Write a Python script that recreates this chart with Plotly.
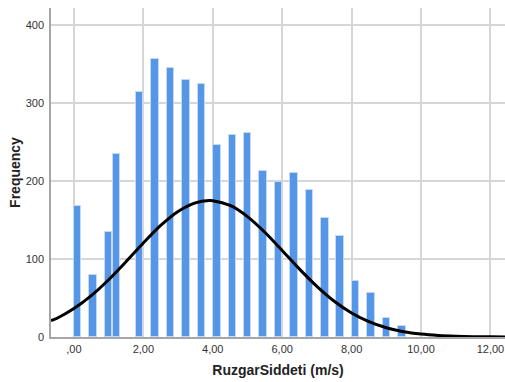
import plotly.graph_objects as go

# histogram bars (bin centres, m/s) and counts
bin_centers = [0.11, 0.55, 1.00, 1.22, 1.89, 2.34, 2.78, 3.23, 3.67, 4.12, 4.56, 5.00,
               5.45, 5.90, 6.34, 6.78, 7.23, 7.67, 8.11, 8.56, 9.01, 9.45]
counts = [168, 80, 135, 235, 314, 356, 345, 329, 325, 246, 259, 261,
          213, 199, 210, 189, 153, 130, 72, 57, 25, 14]

# normal curve points
curve_x = [-0.66, -0.5, 0.0, 0.5, 1.0, 1.5, 2.0, 2.5, 3.0, 3.5, 3.9, 4.0, 4.5, 5.0,
           5.5, 6.0, 6.5, 7.0, 7.5, 8.0, 8.5, 9.0, 9.5, 10.0, 10.5, 11.0, 11.5, 12.0, 12.42]
curve_y = [21, 23.7, 36.4, 53, 73.4, 96.5, 120.5, 143, 161, 172, 175, 174.8, 168.6, 154.4,
           134.3, 111, 87, 64.9, 45.8, 30.8, 19.7, 11.9, 6.8, 3.7, 1.9, 0.95, 0.45, 0.2, 0.1]

x_ticks = [0, 2, 4, 6, 8, 10, 12]
x_labels = [",00", "2,00", "4,00", "6,00", "8,00", "10,00", "12,00"]
y_ticks = [0, 100, 200, 300, 400]

FONT = "Liberation Sans, Arial, sans-serif"

fig = go.Figure()
fig.add_trace(go.Bar(
    x=bin_centers, y=counts, width=0.21,
    marker=dict(color="#5597e6", line=dict(color="#c4d9f5", width=1)),
    hoverinfo="x+y", showlegend=False,
))
fig.add_trace(go.Scatter(
    x=curve_x, y=curve_y, mode="lines",
    line=dict(color="black", width=3, shape="spline", smoothing=0.8),
    showlegend=False, hoverinfo="skip",
))
fig.update_layout(
    width=505, height=382,
    margin=dict(l=51, r=0, t=8, b=45),
    paper_bgcolor="white", plot_bgcolor="white",
    font=dict(family=FONT, size=11, color="#333333"),
    bargap=0,
)
fig.update_xaxes(
    range=[-0.66, 12.42], tickvals=x_ticks, ticktext=x_labels,
    showgrid=True, gridcolor="#d6d6d6", gridwidth=1.5,
    showline=True, linecolor="#a6a6a6", linewidth=1.5,
    zeroline=False, ticks="", ticklabelstandoff=1,
    title=dict(text="<b>RuzgarSiddeti (m/s)</b>", font=dict(size=14, color="#222222"), standoff=11),
)
fig.update_yaxes(
    range=[0, 421.8], tickvals=y_ticks,
    showgrid=True, gridcolor="#d6d6d6", gridwidth=1.5,
    showline=True, linecolor="#a6a6a6", linewidth=1.5,
    zeroline=False, ticks="", ticklabelstandoff=3,
    title=dict(text="<b>Frequency</b>", font=dict(size=14, color="#222222"), standoff=2),
)

# drop the page's default body margin so the figure sits at the window corner
fig.write_html("out.html", config={"displayModeBar": False},
               post_script="document.body.style.margin='0';")
